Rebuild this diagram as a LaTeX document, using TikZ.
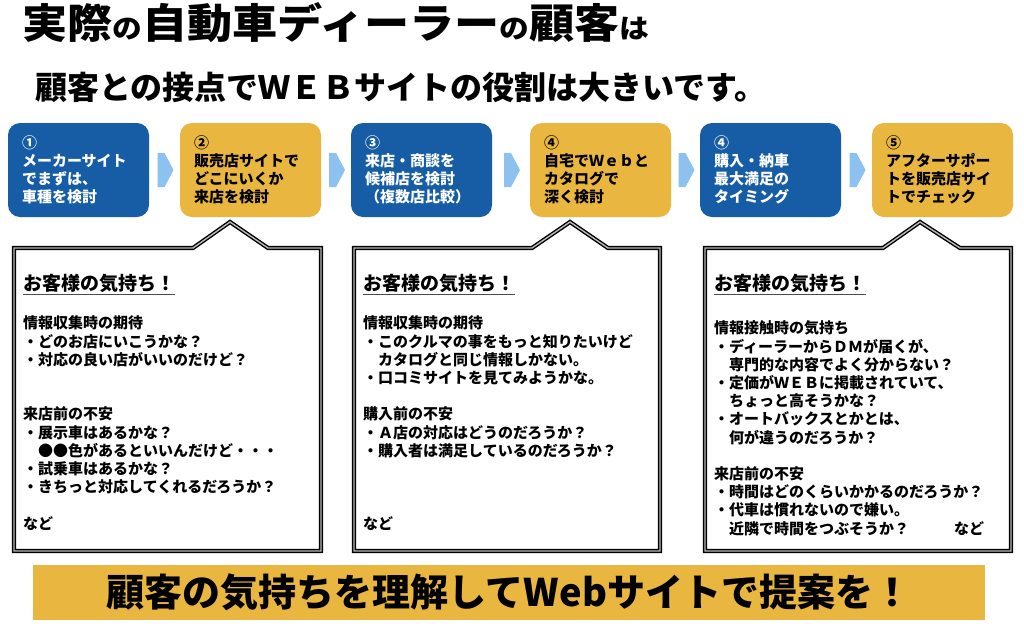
\documentclass[tikz,border=0pt]{standalone}
\usepackage{fontspec}
\setmainfont{Noto Sans CJK JP}
\usetikzlibrary{calc}
\definecolor{stepblue}{RGB}{22,93,166}
\definecolor{stepyellow}{RGB}{233,182,64}
\definecolor{arrowblue}{RGB}{141,193,240}
\begin{document}
\begin{tikzpicture}[x=1pt,y=-1pt,
  stepbox/.style={rounded corners=12pt, minimum width=141pt, minimum height=94pt,
    text width=113pt, align=left, inner sep=0pt, font=\bfseries\fontsize{15}{18}\selectfont},
  bluestep/.style={stepbox, fill=stepblue, text=white},
  yellowstep/.style={stepbox, fill=stepyellow, text=black},
  flowarrow/.style={fill=arrowblue},
  balloon/.style={draw=black, line width=1.4pt, double=gray!55, double distance=1.4pt,
    fill=white, line join=miter},
  feeling/.style={anchor=base west, inner sep=0pt, font=\bfseries\fontsize{19}{22}\selectfont},
  underbar/.style={line width=1.6pt, black!70},
  bodytext/.style={anchor=base west, inner sep=0pt, align=left,
    font=\bfseries\fontsize{15}{18.2}\selectfont}]
\path[fill=white] (0,0) rectangle (1024,627);
% titles
\node[anchor=base west, inner sep=0pt] (title) at (22,38)
  {\scalebox{1.1}[1]{\bfseries\fontsize{41}{41}\selectfont 実際{\fontsize{27}{27}\selectfont の}自動車ディーラー{\fontsize{27}{27}\selectfont の}顧客{\fontsize{27}{27}\selectfont は}}};
\node[anchor=base west, inner sep=0pt, font=\bfseries\fontsize{32}{32}\selectfont] (subtitle) at (35,99)
  {顧客との接点でＷＥＢサイトの役割は大きいです。};
% steps
\node[bluestep]   (s1) at (78.5,170)  {①\\メーカーサイト\\でまずは、\\車種を検討};
\node[yellowstep] (s2) at (250.5,170) {②\\販売店サイトで\\どこにいくか\\来店を検討};
\node[bluestep]   (s3) at (421.5,170) {③\\来店・商談を\\候補店を検討\\（複数店比較）};
\node[yellowstep] (s4) at (600.5,170) {④\\自宅でＷｅｂと\\カタログで\\深く検討};
\node[bluestep]   (s5) at (770.5,170) {④\\購入・納車\\最大満足の\\タイミング};
\node[yellowstep] (s6) at (942.5,170) {⑤\\アフターサポー\\トを販売店サイ\\トでチェック};
\foreach \a/\b in {s1/s2,s2/s3,s3/s4,s4/s5,s5/s6}
  \fill[flowarrow] ($(\a.east)!0.5!(\b.west)+(-7,-17)$) -- ($(\a.east)!0.5!(\b.west)+(0,-17)$)
    -- ($(\a.east)!0.5!(\b.west)+(9,0)$) -- ($(\a.east)!0.5!(\b.west)+(0,17)$)
    -- ($(\a.east)!0.5!(\b.west)+(-7,17)$) -- cycle;
% balloons
\draw[balloon] (14,248) -- (193,248) -- (230,222) -- (268,248) -- (321,248) -- (321,551) -- (14,551) -- cycle;
\draw[balloon] (354,248) -- (532,248) -- (570,222) -- (608,248) -- (660,248) -- (660,551) -- (354,551) -- cycle;
\draw[balloon] (705,248) -- (883,248) -- (920,222) -- (960,248) -- (1011,248) -- (1011,551) -- (705,551) -- cycle;
\node[feeling] (h1) at (23,290) {お客様の気持ち！};
\node[feeling] (h2) at (363,290) {お客様の気持ち！};
\node[feeling] (h3) at (714,290) {お客様の気持ち！};
\foreach \h in {h1,h2,h3}
  \draw[underbar] ($(\h.base west)+(0,4.5)$) -- ($(\h.base east)+(0,4.5)$);
% base of a block = its last line
\node[bodytext] (b1) at (23,529) {情報収集時の期待\\・どのお店にいこうかな？\\・対応の良い店がいいのだけど？\\[36.4pt]来店前の不安\\・展示車はあるかな？\\　●●色があるといいんだけど・・・\\・試乗車はあるかな？\\・きちっと対応してくれるだろうか？\\[18.2pt]など};
\node[bodytext] (b2) at (363,529) {情報収集時の期待\\・このクルマの事をもっと知りたいけど\\　カタログと同じ情報しかない。\\・口コミサイトを見てみようかな。\\[18.2pt]購入前の不安\\・Ａ店の対応はどうのだろうか？\\・購入者は満足しているのだろうか？\\[54.6pt]など};
\node[bodytext] (b3) at (714,534) {情報接触時の気持ち\\・ディーラーからＤＭが届くが、\\　専門的な内容でよく分からない？\\・定価がＷＥＢに掲載されていて、\\　ちょっと高そうかな？\\・オートバックスとかとは、\\　何が違うのだろうか？\\[18.2pt]来店前の不安\\・時間はどのくらいかかるのだろうか？\\・代車は慣れないので嫌い。\\　近隣で時間をつぶそうか？　　　など};
% banner
\node[fill=stepyellow, minimum width=952pt, minimum height=55pt, inner sep=0pt,
  font=\bfseries\fontsize{38}{38}\selectfont] (banner) at (509,592.5) {顧客の気持ちを理解してWebサイトで提案を！};
\end{tikzpicture}
\end{document}
